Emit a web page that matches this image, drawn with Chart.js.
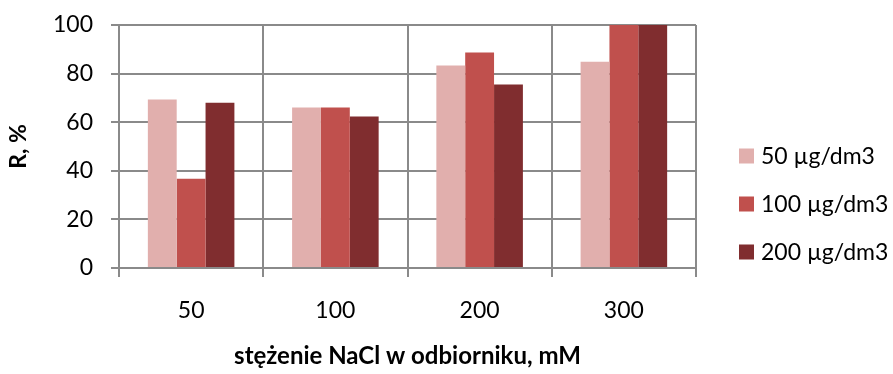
<!DOCTYPE html>
<html>
<head>
<meta charset="utf-8">
<script src="https://cdn.jsdelivr.net/npm/chart.js@4/dist/chart.umd.min.js"></script>
<style>
  html, body { margin: 0; padding: 0; background: #ffffff; }
  #wrap { width: 893px; height: 374px; }
</style>
</head>
<body>
<div id="wrap"><canvas id="c" width="893" height="374"></canvas></div>
<script>
// NaCl concentration in the receiver (mM)
const categories = ['50', '100', '200', '300'];
// Series labels (dose)
const seriesLabels = ['50 µg/dm3', '100 µg/dm3', '200 µg/dm3'];
// R, % for each series
const series50 = [69.3, 66.0, 83.3, 84.9];
const series100 = [36.7, 66.0, 88.7, 100];
const series200 = [68.0, 62.3, 75.5, 100];
const seriesColors = ['#E1AFAD', '#C0504D', '#802D2F'];

const FONT = 'Lato, "Open Sans", sans-serif';
const GRID = '#8a8a8a';

// Legend drawn at the right of the plot
const sideLegend = {
  id: 'sideLegend',
  afterDraw(chart) {
    const ctx = chart.ctx;
    ctx.save();
    ctx.font = '23px ' + FONT;
    ctx.textBaseline = 'middle';
    ctx.textAlign = 'left';
    chart.data.datasets.forEach((ds, i) => {
      const cy = 156 + i * 48;
      ctx.fillStyle = ds.backgroundColor;
      ctx.fillRect(739, cy - 7.5, 15, 15);
      ctx.fillStyle = '#000000';
      ctx.fillText(ds.label, 761, cy + 1);
    });
    ctx.restore();
  }
};

const seriesValues = [series50, series100, series200];

new Chart(document.getElementById('c'), {
  type: 'bar',
  data: {
    labels: categories,
    datasets: seriesLabels.map((label, i) => ({
      label: label,
      data: seriesValues[i],
      backgroundColor: seriesColors[i],
      borderWidth: 0,
      categoryPercentage: 0.6,
      barPercentage: 1.0
    }))
  },
  options: {
    responsive: false,
    animation: false,
    devicePixelRatio: 1,
    layout: { padding: { top: 25, right: 197, bottom: 0, left: 0 } },
    plugins: {
      legend: { display: false },
      tooltip: { enabled: false }
    },
    scales: {
      x: {
        grid: { color: GRID, lineWidth: 2, tickLength: 9, offset: true, drawOnChartArea: true },
        border: { color: GRID, width: 2 },
        ticks: { color: '#000', font: { family: FONT, size: 23 }, padding: 20 },
        title: {
          display: true,
          text: 'stężenie NaCl w odbiorniku, mM',
          color: '#000',
          font: { family: FONT, size: 24, weight: 'bold' },
          padding: { top: 0, bottom: 3 }
        },
        afterFit(scale) { scale.height = 106; }
      },
      y: {
        min: 0,
        max: 100,
        ticks: { stepSize: 20, color: '#000', font: { family: FONT, size: 23 }, padding: 18 },
        grid: { color: GRID, lineWidth: 2, tickLength: 8 },
        border: { color: GRID, width: 2 },
        title: {
          display: true,
          text: 'R, %',
          color: '#000',
          font: { family: FONT, size: 23, weight: 'bold' },
          padding: { top: 5, bottom: 0 }
        },
        afterFit(scale) {
          scale.width = 119;
          scale.paddingTop = 0;
          scale.paddingBottom = 0;
        }
      }
    }
  },
  plugins: [sideLegend]
});
</script>
</body>
</html>
